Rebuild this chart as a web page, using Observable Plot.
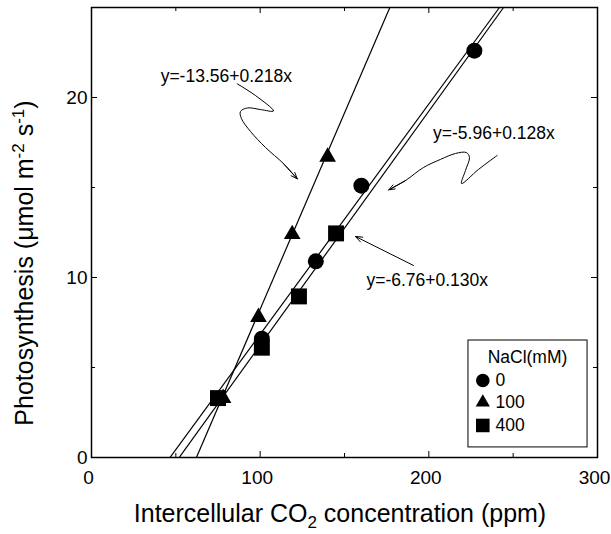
<!DOCTYPE html>
<html><head><meta charset="utf-8">
<script src="https://cdn.jsdelivr.net/npm/d3@7"></script>
<script src="https://cdn.jsdelivr.net/npm/@observablehq/plot@0.6"></script>
<style>body{margin:0;background:#fff}</style>
</head><body><div id="chart"></div>
<script>
// ---- data ----
const xTickLabels = [0, 100, 200, 300];
const xMinorTicks = [50, 150, 250];
const yTickLabels = [0, 10, 20];
const yMinorTicks = [5, 15, 25];
const xDomain = [0, 300];
const yDomain = [0, 25];

const groups = ["0", "100", "400"];
const groupSymbols = ["circle", "triangle", "square"];
const groupRadius = [8, 6.2, 9];

const ciNaCl0 = [101, 133, 160, 227];
const aNaCl0 = [6.6, 10.9, 15.1, 22.6];
const ciNaCl100 = [78, 99, 119, 140];
const aNaCl100 = [3.3, 7.8, 12.4, 16.7];
const ciNaCl400 = [75, 101, 123, 145];
const aNaCl400 = [3.3, 6.1, 8.95, 12.45];

// regression fits (order: NaCl 100, NaCl 0, NaCl 400)
const fitLabels = ["y=-13.56+0.218x", "y=-5.96+0.128x", "y=-6.76+0.130x"];
const fitIntercepts = [-13.56, -5.96, -6.76];
const fitSlopes = [0.218, 0.128, 0.130];
const fitLabelX = [41, 202.5, 163];
const fitLabelY = [21.2, 18.0, 9.83];

// annotation arrows (data units)
const arrow1X = [86.4, 97.2, 107.9, 100.2, 92.5, 88.3, 88.9, 94.3, 103.2, 113.8, 122.0];
const arrow1Y = [20.76, 20.11, 19.25, 19.33, 19.42, 19.22, 18.83, 18.11, 17.22, 16.33, 15.48];
const arrow2X = [240.5, 229.4, 219.4, 221.7, 224.1, 222.3, 215.8, 206.9, 196.8, 186.2, 176.3];
const arrow2Y = [16.78, 16.0, 15.22, 15.94, 16.67, 16.94, 16.89, 16.56, 16.11, 15.39, 14.87];
const arrow3X = [190.9, 156.5];
const arrow3Y = [10.67, 12.28];

// legend (data units)
const legendTitle = "NaCl(mM)";
const legendBox = {x1: 223.5, x2: 294.1, y1: 0.56, y2: 6.5};
const legendTitlePos = {x: 258.5, y: 5.56};
const legendSymX = 232;
const legendTextX = 239.5;
const legendY = [4.28, 3.06, 1.78];

// ---- style constants ----
const font = "'Liberation Sans', Arial, Helvetica, sans-serif";
const majorLen = 6, minorLen = 4;   // tick length, px

const svgW = 611, svgH = 534, mL = 91, mR = 14, mT = 7, mB = 77;
const pxPerX = (svgW - mL - mR) / (xDomain[1] - xDomain[0]);
const pxPerY = (svgH - mT - mB) / (yDomain[1] - yDomain[0]);

// ---- build tables ----
const ciAll = [ciNaCl0, ciNaCl100, ciNaCl400];
const aAll = [aNaCl0, aNaCl100, aNaCl400];
const points = groups.map((g, gi) => ciAll[gi].map((c, i) => ({group: g, ci: c, a: aAll[gi][i]})));

const fits = fitLabels.map((l, i) => ({
  label: l,
  x1: (yDomain[0] - fitIntercepts[i]) / fitSlopes[i], y1: yDomain[0],
  x2: (yDomain[1] - fitIntercepts[i]) / fitSlopes[i], y2: yDomain[1],
  lx: fitLabelX[i], ly: fitLabelY[i]
}));
const toPts = (xs, ys) => xs.map((x, i) => ({x, y: ys[i]}));
const lastSeg = (xs, ys) => [{x1: xs[xs.length - 2], y1: ys[ys.length - 2], x2: xs[xs.length - 1], y2: ys[ys.length - 1]}];

const xTicksAll = [...xTickLabels.map(v => ({v, len: majorLen})), ...xMinorTicks.map(v => ({v, len: minorLen}))];
const yTicksAll = [...yTickLabels.map(v => ({v, len: majorLen})), ...yMinorTicks.map(v => ({v, len: minorLen}))];

const tickMarks = [
  Plot.ruleX(xTicksAll, {x: "v", y1: yDomain[0], y2: d => yDomain[0] + d.len / pxPerY, stroke: "black", strokeWidth: 1}),
  Plot.ruleX(xTicksAll, {x: "v", y1: yDomain[1], y2: d => yDomain[1] - d.len / pxPerY, stroke: "black", strokeWidth: 1}),
  Plot.ruleY(yTicksAll, {y: "v", x1: xDomain[0], x2: d => xDomain[0] + d.len / pxPerX, stroke: "black", strokeWidth: 1}),
  Plot.ruleY(yTicksAll, {y: "v", x1: xDomain[1], x2: d => xDomain[1] - d.len / pxPerX, stroke: "black", strokeWidth: 1})
];

const arrowStyle = {stroke: "black", strokeWidth: 1, headLength: 11, headAngle: 42};

const marks = [
  Plot.axisX({ticks: xTickLabels, tickSize: 0, tickPadding: 13, fontSize: 19, dx: -3, label: null}),
  Plot.axisY({ticks: yTickLabels, tickSize: 0, tickPadding: 4, fontSize: 19, label: null}),
  ...tickMarks,
  Plot.link(fits, {x1: "x1", y1: "y1", x2: "x2", y2: "y2", stroke: "black", strokeWidth: 1.2, clip: true}),
  ...points.map((pts, gi) => Plot.dot(pts, {x: "ci", y: "a", symbol: () => groupSymbols[gi], r: groupRadius[gi], fill: "black", stroke: "none"})),
  Plot.text(fits, {x: "lx", y: "ly", text: "label", textAnchor: "start", fontSize: 17.5, fill: "black"}),
  Plot.line(toPts(arrow1X, arrow1Y), {x: "x", y: "y", curve: "catmull-rom", stroke: "black", strokeWidth: 1}),
  Plot.arrow(lastSeg(arrow1X, arrow1Y), {x1: "x1", y1: "y1", x2: "x2", y2: "y2", ...arrowStyle}),
  Plot.line(toPts(arrow2X, arrow2Y), {x: "x", y: "y", curve: "catmull-rom", stroke: "black", strokeWidth: 1}),
  Plot.arrow(lastSeg(arrow2X, arrow2Y), {x1: "x1", y1: "y1", x2: "x2", y2: "y2", ...arrowStyle}),
  Plot.arrow(lastSeg(arrow3X, arrow3Y), {x1: "x1", y1: "y1", x2: "x2", y2: "y2", ...arrowStyle}),
  Plot.rect([legendBox], {x1: "x1", x2: "x2", y1: "y1", y2: "y2", fill: "white", stroke: "black", strokeWidth: 1}),
  Plot.text([legendTitle], {x: legendTitlePos.x, y: legendTitlePos.y, text: d => d, fontSize: 17.5, fill: "black"}),
  ...groups.map((g, gi) => Plot.dot([g], {x: legendSymX, y: legendY[gi], symbol: () => groupSymbols[gi], r: groupRadius[gi] * 0.85, fill: "black"})),
  Plot.text(groups, {x: legendTextX, y: (d, i) => legendY[i], text: d => d, textAnchor: "start", fontSize: 17.5, fill: "black"}),
  Plot.frame({stroke: "black", strokeWidth: 1.5})
];

const svg = Plot.plot({
  width: svgW, height: svgH,
  marginLeft: mL, marginRight: mR, marginTop: mT, marginBottom: mB,
  x: {domain: xDomain},
  y: {domain: yDomain},
  style: {fontFamily: font, background: "white", color: "black", overflow: "visible"},
  marks
});

const s = d3.select(svg);
const xl = s.append("text")
  .attr("x", 340).attr("y", 522)
  .attr("text-anchor", "middle")
  .attr("font-size", 25).attr("font-family", font).attr("fill", "black");
xl.append("tspan").text("Intercellular CO");
xl.append("tspan").attr("font-size", 17).attr("dy", 6).text("2");
xl.append("tspan").attr("dy", -6).text(" concentration (ppm)");

const yl = s.append("text")
  .attr("transform", "translate(33,263) rotate(-90)")
  .attr("text-anchor", "middle")
  .attr("font-size", 25).attr("font-family", font).attr("fill", "black");
yl.append("tspan").text("Photosynthesis (\u03bcmol m");
yl.append("tspan").attr("font-size", 17).attr("dy", -9).text("-2");
yl.append("tspan").attr("dy", 9).text(" s");
yl.append("tspan").attr("font-size", 17).attr("dy", -9).text("-1");
yl.append("tspan").attr("dy", 9).text(")");

document.getElementById("chart").appendChild(svg);
</script>
</body></html>
